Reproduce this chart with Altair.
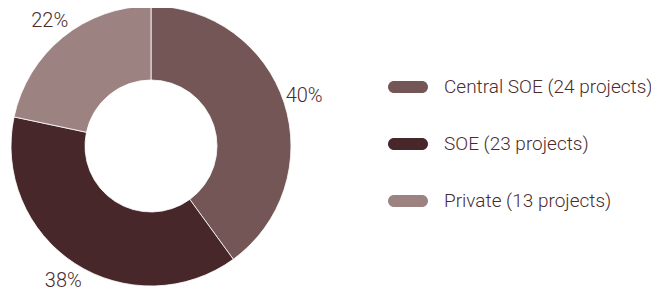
import altair as alt
import pandas as pd

categories = ["Central SOE (24 projects)", "SOE (23 projects)", "Private (13 projects)"]
projects = [24, 23, 13]
colors = ["#735655", "#472729", "#9c8382"]

total = sum(projects)
df = pd.DataFrame({
    "category": categories,
    "projects": projects,
    "order": list(range(len(categories))),
    "label": [f"{round(v / total * 100)}%" for v in projects],
})

pill = "M-0.7,-0.3 L0.7,-0.3 A0.3,0.3 0 0 1 0.7,0.3 L-0.7,0.3 A0.3,0.3 0 0 1 -0.7,-0.3 Z"
FONT = "Roboto"
TXT = "#4b2c2e"

base = alt.Chart(df).encode(
    theta=alt.Theta("projects:Q", stack=True),
    order=alt.Order("order:Q"),
)

arcs = base.mark_arc(outerRadius=140, innerRadius=66, stroke="white", strokeWidth=0.8).encode(
    x=alt.value(143),
    y=alt.value(138),
    color=alt.Color(
        "category:N",
        scale=alt.Scale(domain=categories, range=colors),
        sort=categories,
        legend=alt.Legend(
            title=None,
            orient="none",
            legendX=380,
            legendY=59,
            symbolType=pill,
            symbolSize=1600,
            symbolStrokeWidth=0,
            labelFont=FONT,
            labelFontWeight=300,
            labelFontSize=19,
            labelColor=TXT,
            labelOffset=16,
            rowPadding=27,
            labelLimit=400,
        ),
    ),
)

labels = base.mark_text(radius=161, font=FONT, fontWeight=300, fontSize=20, color=TXT).encode(
    x=alt.value(143),
    y=alt.value(138),
    text="label:N",
)

chart = (
    (arcs + labels)
    .properties(width=643, height=287, autosize=alt.AutoSizeParams(type="none"), padding=0)
    .configure_view(stroke=None)
)

chart.save("out.html", embed_options={"renderer": "svg", "actions": False})
